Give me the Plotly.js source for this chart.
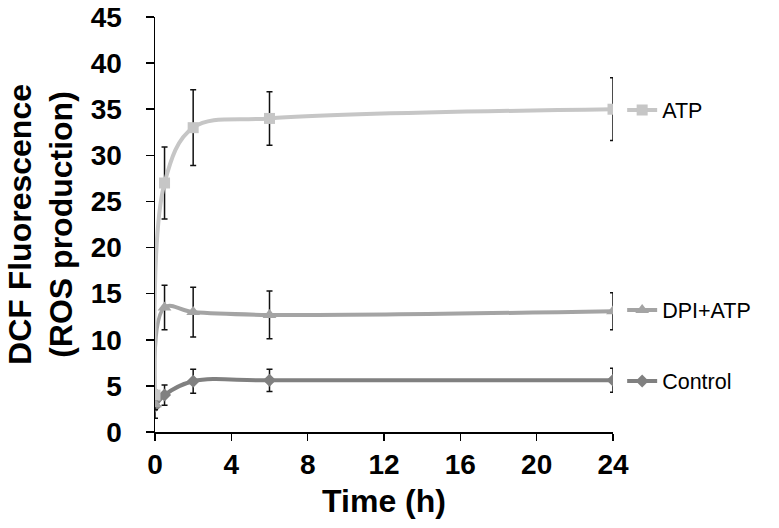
<!DOCTYPE html>
<html><head><meta charset="utf-8">
<script src="https://cdn.plot.ly/plotly-3.0.1.min.js"></script>
<style>body{margin:0;background:#fff}#c{width:779px;height:528px}</style>
</head><body><div id="c"></div>
<script>
const timeH = [0, 0.5, 2, 6, 24];
const atp = [4, 27, 33, 34, 35];
const atpErr = [0.5, 3.9, 4.1, 2.9, 3.4];
const dpiAtp = [3, 13.5, 13, 12.7, 13.1];
const dpiAtpErr = [0.6, 2.4, 2.7, 2.6, 2.0];
const control = [2.8, 4, 5.5, 5.6, 5.6];
const controlErr = [1.3, 1.1, 1.3, 1.2, 1.3];
const xTicks = [0, 4, 8, 12, 16, 20, 24];
const yTicks = [0, 5, 10, 15, 20, 25, 30, 35, 40, 45];

const FAM = 'Liberation Sans, Arial, sans-serif';
function tr(name, y, err, color, symbol, size, legend) {
  return {
    x: timeH, y: y, name: name, type: 'scatter', mode: 'lines+markers',
    line: {color: color, width: 4, shape: 'spline', smoothing: 1},
    marker: {color: color, symbol: symbol, size: size},
    error_y: {type: 'data', array: err, visible: true, color: '#111', thickness: 1.5, width: 3},
    legend: legend
  };
}
const data = [
  tr('Control', control, controlErr, '#808080', 'diamond', 10, 'legend3'),
  tr('DPI+ATP', dpiAtp, dpiAtpErr, '#a4a4a4', 'triangle-up', 12, 'legend2'),
  tr('ATP', atp, atpErr, '#c6c6c6', 'square', 11, 'legend')
];
function leg(y) {
  return {x: 1.02, y: y, xanchor: 'left', yanchor: 'middle',
    font: {family: FAM, size: 21.5, color: '#000'}, bgcolor: 'rgba(0,0,0,0)', itemwidth: 30};
}
const layout = {
  width: 779, height: 528,
  font: {family: FAM, color: '#000'},
  margin: {l: 155, r: 166, t: 17, b: 96},
  paper_bgcolor: '#fff', plot_bgcolor: '#fff',
  showlegend: true,
  legend: leg(0.776), legend2: leg(0.294), legend3: leg(0.123),
  xaxis: {
    range: [0, 24], tickmode: 'array', tickvals: xTicks, ticktext: xTicks.map(v => '<b>' + v + '</b>'),
    showgrid: false, zeroline: false, showline: true, linecolor: '#000', linewidth: 1.5,
    ticks: 'outside', ticklen: 7, tickwidth: 1.5, tickcolor: '#000',
    tickfont: {family: FAM, size: 28, color: '#000'},
    title: {text: '<b>Time (h)</b>', font: {family: FAM, size: 32, color: '#000'}, standoff: 10}
  },
  yaxis: {
    range: [0, 45], tickmode: 'array', tickvals: yTicks, ticktext: yTicks.map(v => '<b>' + v + '</b>'),
    showgrid: false, zeroline: false, showline: true, linecolor: '#000', linewidth: 1.5,
    ticks: 'outside', ticklen: 8, tickwidth: 1.5, tickcolor: '#000',
    ticklabelstandoff: 18,
    tickfont: {family: FAM, size: 28, color: '#000'},
    title: {text: '<b>DCF Fluorescence<br>(ROS production)</b>', font: {family: FAM, size: 32, color: '#000'}, standoff: 8}
  }
};
Plotly.newPlot('c', data, layout, {displayModeBar: false, staticPlot: true});
</script></body></html>
